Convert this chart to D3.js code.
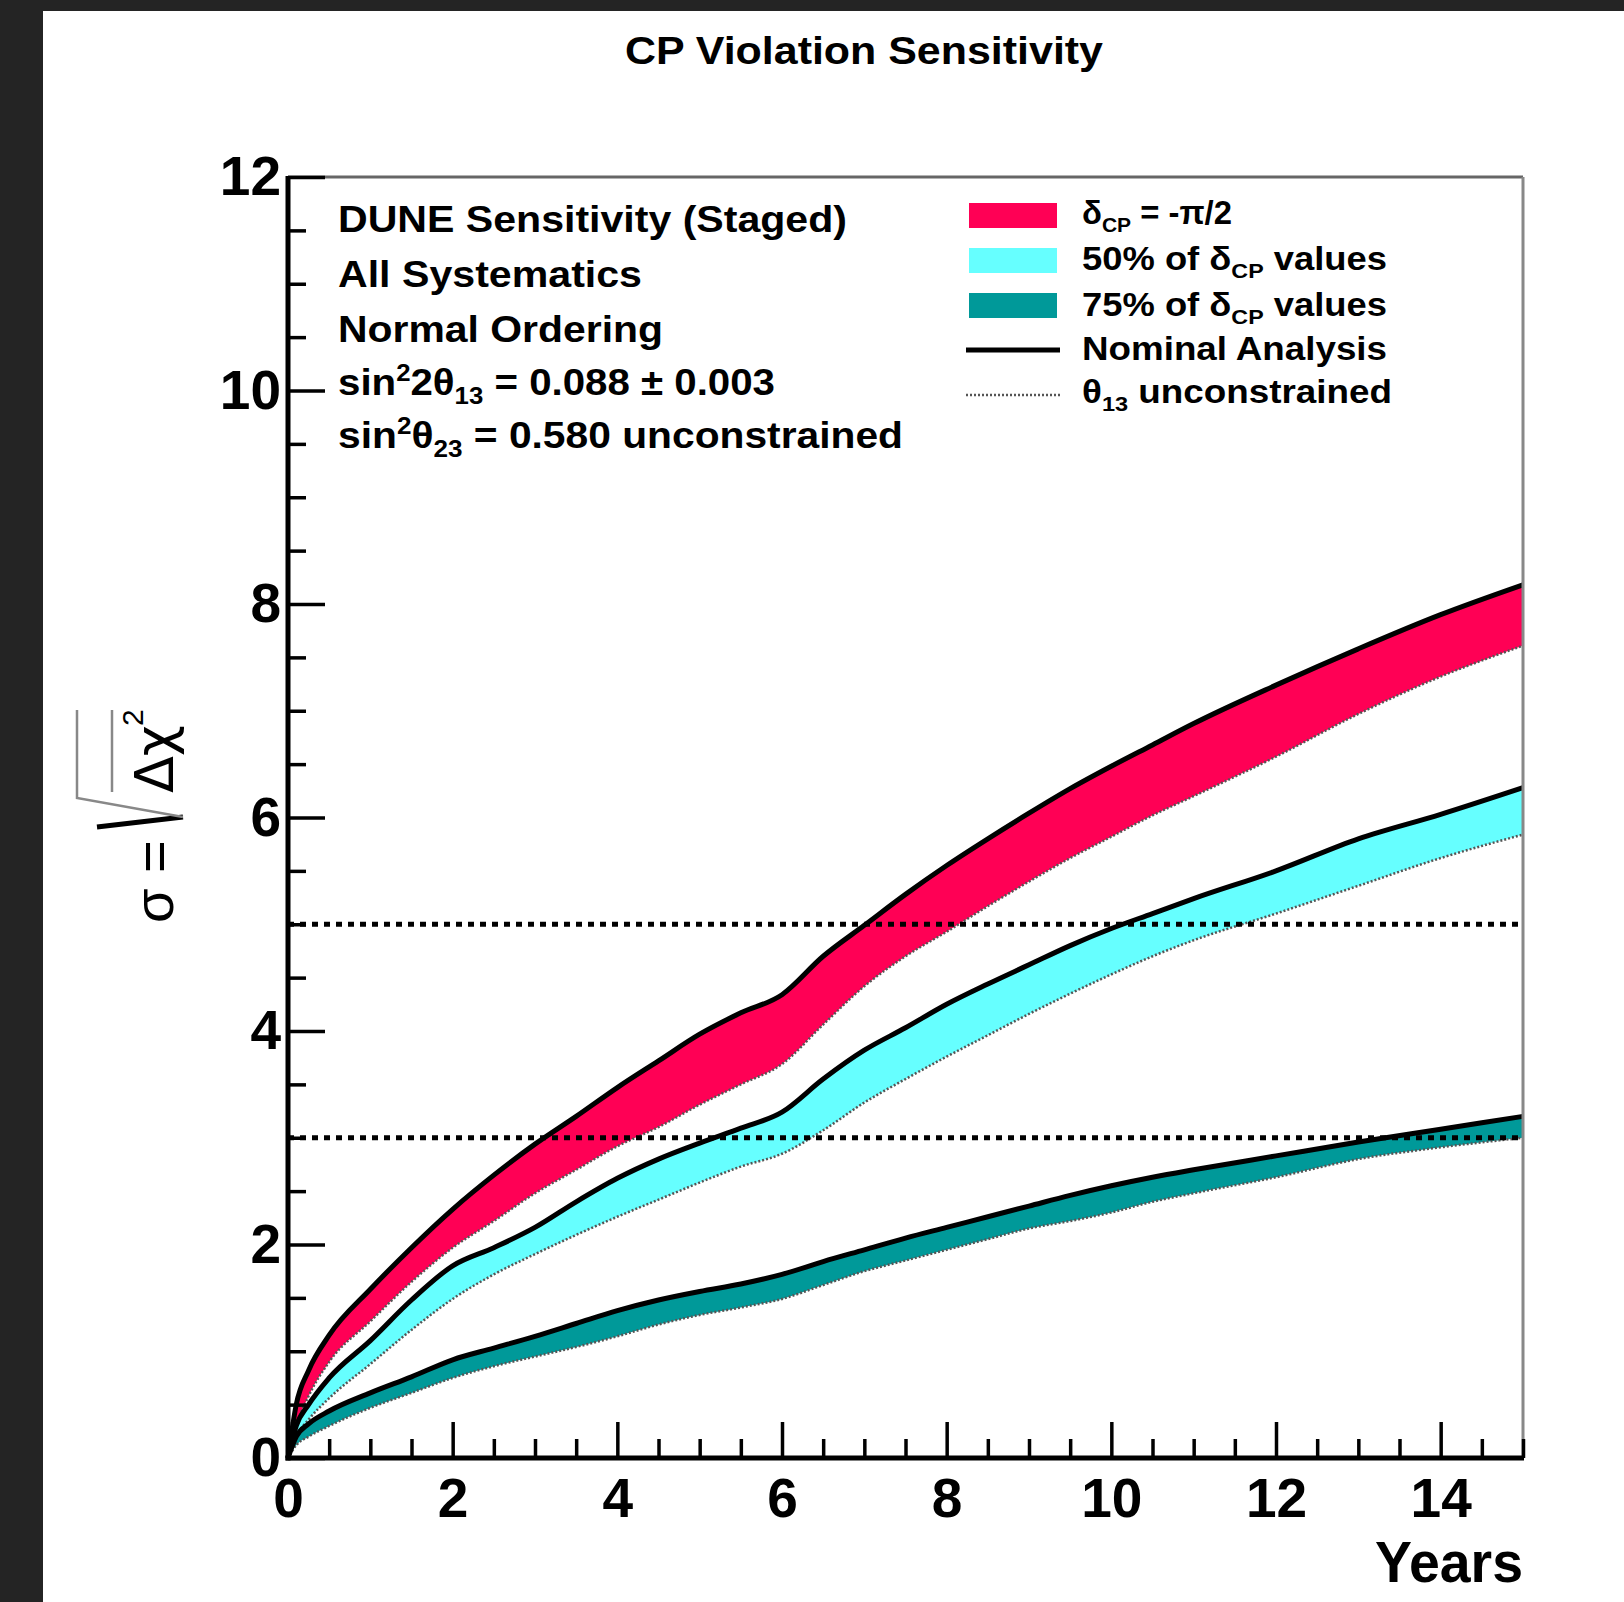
<!DOCTYPE html>
<html><head><meta charset="utf-8">
<script src="https://cdn.jsdelivr.net/npm/d3@7"></script>
<style>
html,body{margin:0;padding:0;background:#242424;}
svg{display:block;}
text{font-family:"Liberation Sans",Arial,Helvetica,sans-serif;}
</style></head><body>
<svg id="chart" width="1624" height="1602"></svg>
<script>
// ---------------- data ----------------
const years = [0, 0.1, 0.25, 0.5, 1, 1.5, 2, 2.5, 3, 3.5, 4, 4.5, 5, 5.5, 6, 6.5, 7, 7.5, 8, 8.5, 9, 9.5, 10, 10.5, 11, 12, 13, 14, 15];
// delta_CP = -pi/2 band
const redNominal = [0, 0.5, 0.82, 1.15, 1.58, 1.97, 2.33, 2.65, 2.94, 3.2, 3.47, 3.72, 3.97, 4.17, 4.34, 4.7, 4.99, 5.28, 5.55, 5.8, 6.04, 6.27, 6.48, 6.68, 6.88, 7.24, 7.58, 7.9, 8.18];
const redTheta13 = [0, 0.3, 0.58, 0.9, 1.28, 1.65, 1.97, 2.22, 2.48, 2.7, 2.92, 3.1, 3.31, 3.5, 3.69, 4.06, 4.42, 4.7, 4.93, 5.17, 5.4, 5.62, 5.82, 6.02, 6.2, 6.57, 6.97, 7.32, 7.61];
// 50% of delta_CP values band
const cyanNominal = [0, 0.3, 0.5, 0.75, 1.1, 1.48, 1.8, 1.97, 2.16, 2.4, 2.62, 2.8, 2.95, 3.09, 3.24, 3.55, 3.82, 4.03, 4.25, 4.44, 4.62, 4.8, 4.96, 5.1, 5.24, 5.5, 5.8, 6.03, 6.28];
const cyanTheta13 = [0, 0.2, 0.36, 0.56, 0.88, 1.2, 1.49, 1.72, 1.91, 2.09, 2.26, 2.42, 2.58, 2.73, 2.85, 3.07, 3.33, 3.55, 3.76, 3.96, 4.16, 4.35, 4.53, 4.7, 4.85, 5.1, 5.36, 5.62, 5.84];
// 75% of delta_CP values band
const tealNominal = [0, 0.2, 0.32, 0.44, 0.61, 0.76, 0.92, 1.03, 1.14, 1.26, 1.38, 1.48, 1.56, 1.63, 1.72, 1.84, 1.95, 2.06, 2.16, 2.26, 2.36, 2.46, 2.55, 2.63, 2.7, 2.83, 2.96, 3.08, 3.2];
const tealTheta13 = [0, 0.12, 0.2, 0.3, 0.47, 0.61, 0.75, 0.86, 0.95, 1.04, 1.14, 1.25, 1.34, 1.41, 1.49, 1.62, 1.75, 1.85, 1.95, 2.05, 2.15, 2.22, 2.3, 2.4, 2.48, 2.63, 2.8, 2.91, 3.0];

const referenceLevels = [3, 5];
const xTickLabels = [0, 2, 4, 6, 8, 10, 12, 14];
const yTickLabels = [0, 2, 4, 6, 8, 10, 12];
const minorStep = 0.5;

const bandColors = ["#ff0055", "#66ffff", "#009999"];
const legendLabels = [
  [{t:"δ"},{t:"CP",sub:true},{t:" = -π/2"}],
  [{t:"50% of δ"},{t:"CP",sub:true},{t:" values"}],
  [{t:"75% of δ"},{t:"CP",sub:true},{t:" values"}],
  [{t:"Nominal Analysis"}],
  [{t:"θ"},{t:"13",sub:true},{t:" unconstrained"}]
];
const infoLines = [
  [{t:"DUNE Sensitivity (Staged)"}],
  [{t:"All Systematics"}],
  [{t:"Normal Ordering"}],
  [{t:"sin"},{t:"2",sup:true},{t:"2θ"},{t:"13",sub:true},{t:" = 0.088 ± 0.003"}],
  [{t:"sin"},{t:"2",sup:true},{t:"θ"},{t:"23",sub:true},{t:" = 0.580 unconstrained"}]
];

// ---------------- layout ----------------
const svg = d3.select("#chart");
svg.append("rect").attr("x",43).attr("y",11).attr("width",1624-43).attr("height",1602-11).attr("fill","#fff");

const L = 288, R = 1523, T = 177, B = 1458;
const x = d3.scaleLinear().domain([0,15]).range([L,R]);
const y = d3.scaleLinear().domain([0,12]).range([B,T]);

function rich(g, px, py, parts, size, length, weight, family) {
  const t = g.append("text").attr("x",px).attr("y",py)
    .attr("font-size",size).attr("font-weight",weight||"bold").attr("fill","#000");
  if (family) t.style("font-family", family);
  if (length) t.attr("textLength",length).attr("lengthAdjust","spacingAndGlyphs");
  let off = 0;
  parts.forEach(p => {
    const want = p.sup ? -0.38*size : (p.sub ? 0.24*size : 0);
    const s = t.append("tspan").text(p.t).attr("dy", want-off);
    if (p.sup || p.sub) s.attr("font-size", size*0.64);
    off = want;
  });
  return t;
}

const bands = [
  {hi: redNominal, lo: redTheta13, color: bandColors[0]},
  {hi: cyanNominal, lo: cyanTheta13, color: bandColors[1]},
  {hi: tealNominal, lo: tealTheta13, color: bandColors[2]}
];
const area = d3.area().x(d=>x(d.t)).y0(d=>y(d.lo)).y1(d=>y(d.hi)).curve(d3.curveMonotoneX);
const lineHi = d3.line().x(d=>x(d.t)).y(d=>y(d.hi)).curve(d3.curveMonotoneX);
const lineLo = d3.line().x(d=>x(d.t)).y(d=>y(d.lo)).curve(d3.curveMonotoneX);

const plot = svg.append("g");
bands.forEach(b => {
  const pts = years.map((t,i)=>({t, hi:b.hi[i], lo:b.lo[i]}));
  plot.append("path").attr("d",area(pts)).attr("fill",b.color).attr("stroke","none");
  plot.append("path").attr("d",lineLo(pts)).attr("fill","none")
    .attr("stroke","#555").attr("stroke-width",2.5).attr("stroke-dasharray","2,2");
  plot.append("path").attr("d",lineHi(pts)).attr("fill","none")
    .attr("stroke","#000").attr("stroke-width",5).attr("stroke-linejoin","round");
});

// reference dotted lines
plot.selectAll("line.ref").data(referenceLevels).enter().append("line")
  .attr("x1",L).attr("x2",R).attr("y1",d=>y(d)).attr("y2",d=>y(d))
  .attr("stroke","#000").attr("stroke-width",5).attr("stroke-dasharray","6,6");

// frame
svg.append("line").attr("x1",L).attr("x2",R).attr("y1",T).attr("y2",T).attr("stroke","#666").attr("stroke-width",3);
svg.append("line").attr("x1",R).attr("x2",R).attr("y1",T).attr("y2",B).attr("stroke","#888").attr("stroke-width",3);

// axes
const minorX = d3.range(0, 15+1e-9, minorStep).filter(v => xTickLabels.indexOf(v) < 0);
const minorY = d3.range(0, 12+1e-9, minorStep).filter(v => yTickLabels.indexOf(v) < 0);

function styleAxis(g){
  g.select(".domain").remove();
  g.selectAll(".tick line").attr("stroke","#000").attr("stroke-width",3.5);
  g.selectAll(".tick text").attr("font-size",55).attr("font-weight","bold")
    .attr("fill","#000").attr("font-family",'"Liberation Sans",Arial,sans-serif');
}
svg.append("g").attr("transform",`translate(0,${B})`)
  .call(d3.axisBottom(x).tickValues(minorX).tickSize(-19).tickFormat(""))
  .call(styleAxis);
svg.append("g").attr("transform",`translate(0,${B})`)
  .call(d3.axisBottom(x).tickValues(xTickLabels).tickSize(-36).tickPadding(20).tickFormat(d3.format("d")))
  .call(styleAxis);
svg.append("g").attr("transform",`translate(${L},0)`)
  .call(d3.axisLeft(y).tickValues(minorY).tickSize(-18).tickFormat(""))
  .call(styleAxis);
svg.append("g").attr("transform",`translate(${L},0)`)
  .call(d3.axisLeft(y).tickValues(yTickLabels).tickSize(-37).tickPadding(7).tickFormat(d3.format("d")))
  .call(styleAxis);

svg.append("line").attr("x1",L).attr("x2",L).attr("y1",T-1).attr("y2",B+2.5).attr("stroke","#000").attr("stroke-width",5);
svg.append("line").attr("x1",L-2.5).attr("x2",R+1).attr("y1",B).attr("y2",B).attr("stroke","#000").attr("stroke-width",5);

// title and axis titles
rich(svg, 625, 64, [{t:"CP Violation Sensitivity"}], 38, 478);
rich(svg, 1375, 1582, [{t:"Years"}], 57, 148);

const yl = svg.append("g").attr("transform","translate(173,923) rotate(-90)");
rich(yl, 0, 0, [{t:"σ = "}], 56, null, "normal");
rich(yl, 130, 0, [{t:"Δχ"}], 54, 68, "normal", '"DejaVu Sans",sans-serif');
rich(yl, 197, -30, [{t:"2"}], 30, null, "normal");
yl.append("path").attr("d","M96,-76 L106,10").attr("stroke","#000").attr("stroke-width",5).attr("fill","none");
yl.append("path").attr("d","M106,10 L125,-96 L213,-96").attr("stroke","#888").attr("stroke-width",2.5).attr("fill","none");
yl.append("path").attr("d","M131,-61 L213,-61").attr("stroke","#888").attr("stroke-width",2.5).attr("fill","none");

// info text
const infoBase = [232, 287, 342, 395, 448];
const infoLen = [509, 304, 325, 437, 565];
infoLines.forEach((parts,i) => rich(svg, 338, infoBase[i], parts, 37, infoLen[i]));

// legend
const leg = svg.append("g");
const boxY = [203, 248, 293];
bandColors.forEach((c,i) => leg.append("rect").attr("x",969).attr("y",boxY[i]).attr("width",88).attr("height",25).attr("fill",c));
leg.append("line").attr("x1",966).attr("x2",1060).attr("y1",350).attr("y2",350).attr("stroke","#000").attr("stroke-width",5);
leg.append("line").attr("x1",966).attr("x2",1060).attr("y1",395).attr("y2",395).attr("stroke","#555").attr("stroke-width",2.5).attr("stroke-dasharray","2,2");
const legBase = [224, 270, 316, 360, 403];
const legLen = [150, 305, 305, 305, 310];
legendLabels.forEach((parts,i) => rich(leg, 1082, legBase[i], parts, 33, legLen[i]));
</script>
</body></html>
